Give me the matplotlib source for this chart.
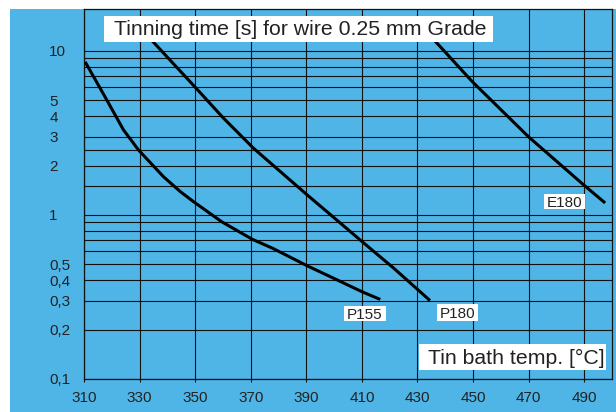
import matplotlib
matplotlib.use("Agg")
import matplotlib.pyplot as plt
from matplotlib.patches import Rectangle
from matplotlib.ticker import FixedLocator, NullFormatter

plt.rcParams['font.family'] = ['Liberation Sans', 'DejaVu Sans']

# curves: (bath temperature, tinning time)
p155_temp = [310.7, 318.2, 324.2, 329.6, 338.6, 344.6, 349.4, 359.5, 370.6, 378.0, 390.3, 400.0, 410.1, 416.1]
p155_time = [8.41, 5.02, 3.30, 2.49, 1.71, 1.39, 1.205, 0.91, 0.71, 0.625, 0.49, 0.41, 0.34, 0.308]

p180_temp = [332.0, 335.2, 349.8, 360.2, 371.0, 390.3, 400.2, 410.1, 421.5, 434.1]
p180_time = [12.8, 11.2, 6.06, 3.89, 2.55, 1.325, 0.955, 0.687, 0.473, 0.305]

e180_temp = [434.0, 436.5, 449.7, 470.1, 489.9, 497.1]
e180_time = [12.6, 11.4, 6.5, 2.98, 1.52, 1.2]

x_ticks = [310, 330, 350, 370, 390, 410, 430, 450, 470, 490]
y_ticks = [0.1, 0.2, 0.3, 0.4, 0.5, 1, 2, 3, 4, 5, 10]
y_labels = ['0,1', '0,2', '0,3', '0,4', '0,5', '1', '2', '3', '4', '5', '10']
y_minor = [0.6, 0.7, 0.8, 0.9, 1.5, 2.5, 6, 7, 8, 9]

blue = '#4fb5e6'
ink = '#222222'
W, H = 616, 412

fig = plt.figure(figsize=(W / 100, H / 100), dpi=100, facecolor='white')
fig.add_artist(Rectangle((10 / W, 0), 606 / W, 403 / H, transform=fig.transFigure,
                         facecolor=blue, edgecolor='none', zorder=0))

ax = fig.add_axes([84 / W, (H - 379) / H, (612 - 84) / W, (379 - 9) / H])
ax.set_facecolor(blue)
ax.set_yscale('log')
ax.set_xlim(310, 500)
ax.set_ylim(0.1, 18)

ax.set_xticks(x_ticks)
ax.set_xticklabels([str(t) for t in x_ticks])
ax.yaxis.set_major_locator(FixedLocator(y_ticks))
ax.set_yticklabels(y_labels)
ax.yaxis.set_minor_locator(FixedLocator(y_minor))
ax.yaxis.set_minor_formatter(NullFormatter())

ax.tick_params(axis='x', direction='out', length=2.2, width=0.8, color='#111111',
               pad=6.5, labelsize=11, labelcolor=ink)
ax.tick_params(axis='y', which='both', length=0, pad=25, labelsize=11, labelcolor=ink)
for lab in ax.get_yticklabels():
    lab.set_horizontalalignment('left')

ax.grid(True, which='major', axis='x', color='#111111', lw=0.8)
ax.grid(True, which='both', axis='y', color='#111111', lw=0.8)
ax.set_axisbelow(True)
for s in ax.spines.values():
    s.set_color('#111111')
    s.set_linewidth(0.9)

ax.plot(p155_temp, p155_time, color='black', lw=2.2, zorder=3)
ax.plot(p180_temp, p180_time, color='black', lw=2.2, zorder=3)
ax.plot(e180_temp, e180_time, color='black', lw=2.2, zorder=3)


def label(x0, y0, x1, y1, tx, ty, text, size):
    # white box and text, positions in pixels from top-left
    fig.add_artist(Rectangle((x0 / W, 1 - y1 / H), (x1 - x0) / W, (y1 - y0) / H,
                             transform=fig.transFigure, facecolor='white',
                             edgecolor='none', zorder=5))
    fig.text(tx / W, 1 - ty / H, text, ha='left', va='baseline', fontsize=size,
             color=ink, zorder=6)


label(104, 16, 493, 42, 114, 35, 'Tinning time [s] for wire 0.25 mm Grade', 15.3)
label(419, 344, 606, 370, 428, 364.3, 'Tin bath temp. [°C]', 15.3)
label(344, 305.7, 386, 321, 346.7, 319, 'P155', 11)
label(436.7, 304, 477.7, 320.7, 439.3, 318.5, 'P180', 11)
label(544, 194, 585, 208.5, 546.7, 206.7, 'E180', 11)

fig.savefig('out.png', dpi=100, facecolor='white')
